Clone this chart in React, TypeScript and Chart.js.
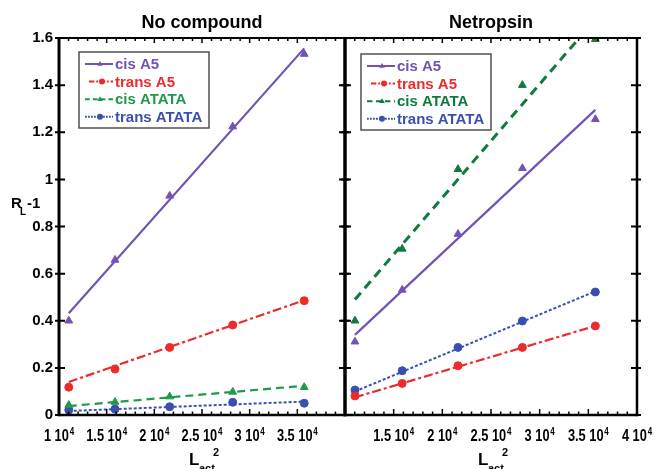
import React, { useEffect, useRef } from "react";
import { Chart, registerables } from "chart.js";

Chart.register(...registerables);

// ---------------- data ----------------
const X_VALUES = [11025, 15876, 21609, 28224, 35721]; // L_act^2
const FIT_X = [11025, 35721];
const X_TICKS = [10000, 15000, 20000, 25000, 30000, 35000, 40000];
const Y_TICKS = [0, 0.2, 0.4, 0.6, 0.8, 1, 1.2, 1.4, 1.6];
const SERIES_NAMES = ["cis A5", "trans A5", "cis ATATA", "trans ATATA"];

// No compound panel
const NC_CIS_A5 = [0.4, 0.658, 0.93, 1.224, 1.532];
const NC_TRANS_A5 = [0.118, 0.195, 0.287, 0.382, 0.485];
const NC_CIS_ATATA = [0.042, 0.055, 0.078, 0.098, 0.118];
const NC_TRANS_ATATA = [0.021, 0.025, 0.035, 0.054, 0.05];
const NC_CIS_A5_FIT = [0.432, 1.556];
const NC_TRANS_A5_FIT = [0.14, 0.487];
const NC_CIS_ATATA_FIT = [0.038, 0.124];
const NC_TRANS_ATATA_FIT = [0.017, 0.057];

// Netropsin panel
const NT_CIS_A5 = [0.311, 0.531, 0.768, 1.047, 1.255];
const NT_TRANS_A5 = [0.081, 0.134, 0.209, 0.287, 0.378];
const NT_CIS_ATATA = [0.4, 0.705, 1.043, 1.4, 1.595];
const NT_TRANS_ATATA = [0.106, 0.188, 0.287, 0.399, 0.522];
const NT_CIS_A5_FIT = [0.34, 1.295];
const NT_TRANS_A5_FIT = [0.075, 0.378];
const NT_CIS_ATATA_FIT = [0.49, 1.68];
const NT_TRANS_ATATA_FIT = [0.1, 0.525];

// ---------------- styles ----------------
type SeriesStyle = { color: string; point: string; dash: number[]; width: number; radius: number };

const LEFT_STYLES: SeriesStyle[] = [
  { color: "#7352b4", point: "triangle", dash: [], width: 2.2, radius: 4.5 },
  { color: "#ee2b2b", point: "circle", dash: [9, 3, 3, 3], width: 2.2, radius: 4 },
  { color: "#1f9a48", point: "triangle", dash: [8, 5], width: 2.2, radius: 4.5 },
  { color: "#3a4fb0", point: "circle", dash: [3, 2], width: 2, radius: 4 },
];
const RIGHT_STYLES: SeriesStyle[] = [
  { color: "#7352b4", point: "triangle", dash: [], width: 2.2, radius: 4.5 },
  { color: "#ee2b2b", point: "circle", dash: [9, 3, 3, 3], width: 2.2, radius: 4 },
  { color: "#0d7a3e", point: "triangle", dash: [9, 6], width: 3, radius: 4.5 },
  { color: "#3a4fb0", point: "circle", dash: [3, 2], width: 2, radius: 4 },
];

const FONT_FAMILY = '"Liberation Sans", Arial, sans-serif';

type PanelCfg = {
  title: string;
  points: number[][];
  fits: number[][];
  styles: SeriesStyle[];
  showYLabels: boolean;
  hideXTick: number;
  yAxisWidth: number;
  padRight: number;
  leftLineWidth: number;
  rightLineWidth: number;
  legendOffset: [number, number];
  yTitle: boolean;
};

function drawMarker(ctx: CanvasRenderingContext2D, style: string, x: number, y: number, r: number) {
  ctx.beginPath();
  if (style === "triangle") {
    ctx.moveTo(x, y - r);
    ctx.lineTo(x + r * 0.95, y + r * 0.6);
    ctx.lineTo(x - r * 0.95, y + r * 0.6);
    ctx.closePath();
  } else {
    ctx.arc(x, y, r, 0, Math.PI * 2);
  }
  ctx.fill();
}

// draws "m 10^4" horizontally condensed, centred on px
function drawXLabel(ctx: CanvasRenderingContext2D, v: number, px: number, baseline: number) {
  const SX = 0.8;
  const main = `${Number((v / 10000).toFixed(1))} 10`;
  ctx.save();
  ctx.font = `bold 16px ${FONT_FAMILY}`;
  const wMain = ctx.measureText(main).width;
  ctx.font = `bold 10px ${FONT_FAMILY}`;
  const wSup = ctx.measureText("4").width;
  const total = (wMain + wSup + 1) * SX;
  ctx.translate(px - total / 2, baseline);
  ctx.scale(SX, 1);
  ctx.fillStyle = "#000";
  ctx.textAlign = "left";
  ctx.textBaseline = "alphabetic";
  ctx.font = `bold 16px ${FONT_FAMILY}`;
  ctx.fillText(main, 0, 0);
  ctx.font = `bold 10px ${FONT_FAMILY}`;
  ctx.fillText("4", wMain + 1, -6);
  ctx.restore();
}

function makePlugin(cfg: PanelCfg) {
  return {
    id: "panelDecor",
    afterDatasetsDraw(chart: any) {
      const ctx: CanvasRenderingContext2D = chart.ctx;
      const { left, right, top, bottom } = chart.chartArea;
      const xs = chart.scales.x;
      const ys = chart.scales.y;
      ctx.save();
      ctx.strokeStyle = "#000";
      ctx.lineCap = "butt";
      // x ticks (bottom and top, inward)
      for (let v = 10000; v <= 40000; v += 1000) {
        const px = xs.getPixelForValue(v);
        const major = v % 5000 === 0;
        ctx.lineWidth = 1.5;
        ctx.beginPath();
        ctx.moveTo(px, bottom);
        ctx.lineTo(px, bottom - (major ? 6 : 3.5));
        ctx.moveTo(px, top);
        ctx.lineTo(px, top + (major ? 5 : 3));
        ctx.stroke();
      }
      // y ticks crossing the side axes
      ctx.lineWidth = 2;
      for (const v of Y_TICKS) {
        const py = ys.getPixelForValue(v);
        ctx.beginPath();
        ctx.moveTo(left - 4, py);
        ctx.lineTo(left + 6, py);
        ctx.moveTo(right - 6, py);
        ctx.lineTo(right + 4, py);
        ctx.stroke();
      }
      // frame
      ctx.lineWidth = 2;
      ctx.beginPath();
      ctx.moveTo(left, top);
      ctx.lineTo(right, top);
      ctx.stroke();
      ctx.lineWidth = 2.5;
      ctx.beginPath();
      ctx.moveTo(left, bottom);
      ctx.lineTo(right, bottom);
      ctx.stroke();
      ctx.lineWidth = cfg.leftLineWidth;
      ctx.beginPath();
      ctx.moveTo(left, top - 1);
      ctx.lineTo(left, bottom + 1.25);
      ctx.stroke();
      ctx.lineWidth = cfg.rightLineWidth;
      ctx.beginPath();
      ctx.moveTo(right, top - 1);
      ctx.lineTo(right, bottom + 1.25);
      ctx.stroke();
      ctx.restore();
      // x tick labels
      for (const v of X_TICKS) {
        if (v === cfg.hideXTick) continue;
        drawXLabel(ctx, v, xs.getPixelForValue(v), bottom + 26);
      }
    },
    afterDraw(chart: any) {
      const ctx: CanvasRenderingContext2D = chart.ctx;
      const { left, right, top, bottom } = chart.chartArea;
      const cx = (left + right) / 2;
      ctx.save();
      // title
      ctx.fillStyle = "#000";
      ctx.font = `bold 18px ${FONT_FAMILY}`;
      ctx.textAlign = "center";
      ctx.textBaseline = "alphabetic";
      ctx.fillText(cfg.title, cx, top - 10);
      // x axis title L_act^2
      ctx.textAlign = "left";
      ctx.font = `bold 17px ${FONT_FAMILY}`;
      ctx.fillText("L", cx - 13, bottom + 50);
      ctx.font = `bold 11px ${FONT_FAMILY}`;
      ctx.fillText("act", cx - 3, bottom + 57);
      ctx.fillText("2", cx + 11, bottom + 41);
      // y axis title R_L-1
      if (cfg.yTitle) {
        ctx.font = `bold 15px ${FONT_FAMILY}`;
        ctx.fillText("R", 11, 208);
        ctx.font = `bold 10px ${FONT_FAMILY}`;
        ctx.fillText("L", 20, 215);
        ctx.font = `bold 15px ${FONT_FAMILY}`;
        ctx.fillText("-1", 27, 208);
      }
      // legend
      const bx = left + cfg.legendOffset[0];
      const by = top + cfg.legendOffset[1];
      const bw = 130;
      const bh = 76;
      ctx.fillStyle = "#fff";
      ctx.fillRect(bx, by, bw, bh);
      ctx.strokeStyle = "#505050";
      ctx.lineWidth = 1.5;
      ctx.strokeRect(bx, by, bw, bh);
      ctx.font = `bold 15px ${FONT_FAMILY}`;
      ctx.textBaseline = "middle";
      SERIES_NAMES.forEach((name, i) => {
        const st = cfg.styles[i];
        const ry = by + 12 + i * 17.6;
        const lx0 = bx + (i === 1 ? 10 : 6);
        const lx1 = bx + 34;
        ctx.strokeStyle = st.color;
        ctx.lineWidth = Math.min(st.width, 2);
        ctx.setLineDash(st.dash.map((d) => d * 0.6));
        ctx.beginPath();
        ctx.moveTo(lx0, ry);
        ctx.lineTo(lx1, ry);
        ctx.stroke();
        ctx.setLineDash([]);
        ctx.fillStyle = st.color;
        drawMarker(ctx, st.point, (lx0 + lx1) / 2 + 1, ry, 3);
        ctx.fillText(name, bx + 36, ry + 1);
      });
      ctx.restore();
    },
  };
}

function buildConfig(cfg: PanelCfg): any {
  const datasets: any[] = [];
  SERIES_NAMES.forEach((name, i) => {
    const st = cfg.styles[i];
    datasets.push({
      label: name + " fit",
      data: FIT_X.map((x, k) => ({ x, y: cfg.fits[i][k] })),
      showLine: true,
      borderColor: st.color,
      borderWidth: st.width,
      borderDash: st.dash,
      pointRadius: 0,
      fill: false,
    });
    datasets.push({
      label: name,
      data: X_VALUES.map((x, k) => ({ x, y: cfg.points[i][k] })),
      showLine: false,
      pointStyle: st.point,
      pointRadius: st.radius,
      backgroundColor: st.color,
      borderColor: st.color,
      borderWidth: 1,
    });
  });
  return {
    type: "scatter",
    data: { datasets },
    options: {
      animation: false,
      responsive: false,
      maintainAspectRatio: false,
      devicePixelRatio: 1,
      layout: { padding: { top: 38, right: cfg.padRight, bottom: 0, left: 0 } },
      plugins: { legend: { display: false }, tooltip: { enabled: false }, title: { display: false } },
      scales: {
        x: {
          type: "linear",
          min: 10000,
          max: 40000,
          afterBuildTicks: (s: any) => {
            s.ticks = X_TICKS.map((v) => ({ value: v }));
          },
          afterFit: (s: any) => {
            s.height = 54;
          },
          grid: { display: false, drawTicks: false },
          border: { display: false },
          ticks: { display: false },
        },
        y: {
          type: "linear",
          min: 0,
          max: 1.6,
          afterBuildTicks: (s: any) => {
            s.ticks = Y_TICKS.map((v) => ({ value: v }));
          },
          afterFit: (s: any) => {
            s.width = cfg.yAxisWidth;
          },
          grid: { display: false, drawTicks: false },
          border: { display: false },
          ticks: {
            display: cfg.showYLabels,
            padding: 6,
            color: "#000",
            font: { family: FONT_FAMILY, size: 15, weight: "bold" },
            callback: (v: number) => String(Number(v.toFixed(1))),
          },
        },
      },
    },
    plugins: [makePlugin(cfg)],
  };
}

const LEFT_CFG: PanelCfg = {
  title: "No compound",
  points: [NC_CIS_A5, NC_TRANS_A5, NC_CIS_ATATA, NC_TRANS_ATATA],
  fits: [NC_CIS_A5_FIT, NC_TRANS_A5_FIT, NC_CIS_ATATA_FIT, NC_TRANS_ATATA_FIT],
  styles: LEFT_STYLES,
  showYLabels: true,
  hideXTick: 40000,
  yAxisWidth: 59,
  padRight: 7,
  leftLineWidth: 3,
  rightLineWidth: 3,
  legendOffset: [20, 14],
  yTitle: true,
};

const RIGHT_CFG: PanelCfg = {
  title: "Netropsin",
  points: [NT_CIS_A5, NT_TRANS_A5, NT_CIS_ATATA, NT_TRANS_ATATA],
  fits: [NT_CIS_A5_FIT, NT_TRANS_A5_FIT, NT_CIS_ATATA_FIT, NT_TRANS_ATATA_FIT],
  styles: RIGHT_STYLES,
  showYLabels: false,
  hideXTick: 10000,
  yAxisWidth: 7,
  padRight: 18,
  leftLineWidth: 3,
  rightLineWidth: 2.5,
  legendOffset: [16, 16],
  yTitle: false,
};

function Panel({ cfg, left, width }: { cfg: PanelCfg; left: number; width: number }) {
  const ref = useRef<HTMLCanvasElement | null>(null);
  useEffect(() => {
    if (!ref.current) return;
    const chart = new Chart(ref.current, buildConfig(cfg));
    return () => chart.destroy();
  }, [cfg]);
  return (
    <canvas
      ref={ref}
      width={width}
      height={469}
      style={{ position: "absolute", left, top: 0, width, height: 469 }}
    />
  );
}

export default function App() {
  return (
    <div style={{ position: "fixed", left: 0, top: 0, width: 655, height: 469, background: "#fff" }}>
      <Panel cfg={LEFT_CFG} left={0} width={352} />
      <Panel cfg={RIGHT_CFG} left={338} width={317} />
    </div>
  );
}
